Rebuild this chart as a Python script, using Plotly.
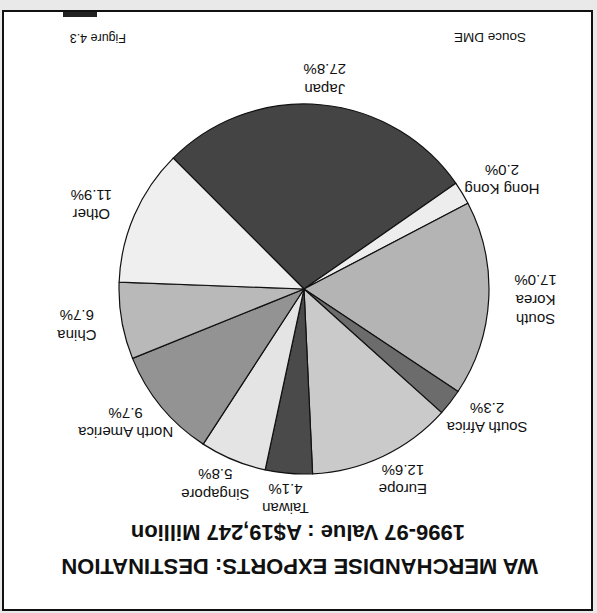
import math
import plotly.graph_objects as go

# data (clockwise from Japan)
destinations = ["Japan", "Hong Kong", "South Korea", "South Africa", "Europe",
                "Taiwan", "Singapore", "North America", "China", "Other"]
shares = [27.8, 2.0, 17.0, 2.3, 12.6, 4.1, 5.8, 9.7, 6.7, 11.9]
title_1 = "WA MERCHANDISE EXPORTS: DESTINATION"
title_2 = "1996-97 Value : A$19,247 Million"
source_text = "Souce DME"
figure_text = "Figure 4.3"

# styling
slice_colors = ["#444444", "#ededed", "#b4b4b4", "#6c6c6c", "#cacaca",
                "#4a4a4a", "#e4e4e4", "#939393", "#b9b9b9", "#efefef"]
W, H = 597, 613
cx, cy, R = 304, 289, 185          # pie centre / radius in px
rot = -45                           # start angle of first slice (clockwise from 12)
label_rx, label_ry = 1.25 * R, 1.14 * R
FONT = "Liberation Sans, Arial, Helvetica, sans-serif"


def px(x):
    return x / W


def py(y):
    return 1 - y / H


fig = go.Figure()
fig.add_pie(
    labels=destinations,
    values=shares,
    sort=False,
    direction="clockwise",
    rotation=rot,
    textinfo="none",
    hoverinfo="label+percent",
    marker=dict(colors=slice_colors, line=dict(color="#111111", width=1.2)),
    domain=dict(x=[px(cx - R), px(cx + R)], y=[py(cy + R), py(cy - R)]),
    showlegend=False,
)

# slice labels, upside down like the scan
annotations = []
total = sum(shares)
angle = rot
for name, val in zip(destinations, shares):
    mid = angle + val / total * 360 / 2
    angle += val / total * 360
    a = math.radians(mid)
    lx = cx + label_rx * math.sin(a)
    ly = cy - label_ry * math.cos(a)
    txt = name.replace("South Korea", "South<br>Korea") + "<br>" + f"{val:.1f}%"
    annotations.append(dict(
        x=px(lx), y=py(ly), xref="paper", yref="paper", text=txt,
        showarrow=False, textangle=180, align="center",
        xanchor="center", yanchor="middle",
        font=dict(family=FONT, size=15, color="#111111"),
    ))

annotations += [
    dict(x=px(300), y=py(581), xref="paper", yref="paper", text="<b>" + title_1 + "</b>",
         showarrow=False, textangle=180, font=dict(family=FONT, size=22, color="#111111")),
    dict(x=px(298), y=py(547), xref="paper", yref="paper", text="<b>" + title_2 + "</b>",
         showarrow=False, textangle=180, font=dict(family=FONT, size=22, color="#111111")),
    dict(x=px(528), y=py(28), xref="paper", yref="paper", text=source_text,
         showarrow=False, textangle=180, font=dict(family=FONT, size=13.5, color="#111111")),
    dict(x=px(68), y=py(29), xref="paper", yref="paper", text=figure_text,
         showarrow=False, textangle=180, font=dict(family=FONT, size=12.5, color="#111111")),
]

fig.update_layout(
    width=W, height=H,
    margin=dict(l=0, r=0, t=0, b=0),
    paper_bgcolor="#e9e9e9",
    annotations=annotations,
    shapes=[
        dict(type="rect", xref="paper", yref="paper", layer="below",
             x0=px(3), x1=px(592), y0=py(610), y1=py(11),
             fillcolor="white", line=dict(color="#111111", width=2)),
        dict(type="rect", xref="paper", yref="paper",
             x0=px(63), x1=px(97), y0=py(17), y1=py(12),
             fillcolor="#222222", line=dict(width=0)),
    ],
)

fig.write_html("out.html", config={"displayModeBar": False},
               post_script="document.body.style.margin='0';")
